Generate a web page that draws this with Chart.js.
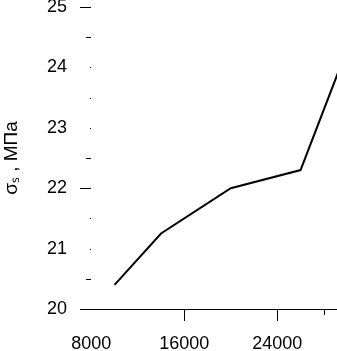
<!DOCTYPE html>
<html>
<head>
<meta charset="utf-8">
<script src="https://cdn.jsdelivr.net/npm/chart.js@4.4.0/dist/chart.umd.min.js"></script>
<style>
  html, body { margin: 0; padding: 0; background: #fff; }
  #wrap { width: 337px; height: 351px; }
</style>
</head>
<body>
<div id="wrap"><canvas id="myChart"></canvas></div>
<script>
// cycles and stress
const cycles = [10000, 14000, 20000, 26000, 30000];
const stress = [20.4, 21.25, 22.0, 22.3, 24.3];
const xTicks = [8000, 16000, 24000];
const yTicks = [20, 21, 22, 23, 24, 25];

// tick marks as drawn in the original (inside for y, outside for x)
const tickMarks = {
    id: 'tickMarks',
    afterDraw(chart) {
        const ctx = chart.ctx;
        const xs = chart.scales.x;
        const ys = chart.scales.y;
        const left = chart.chartArea.left;
        const bottom = chart.chartArea.bottom;
        ctx.save();
        ctx.strokeStyle = '#000';
        ctx.fillStyle = '#000';
        ctx.lineWidth = 1;
        const yKinds = { 25: 'long', 24.5: 'short', 24: 'dot', 23.5: 'dot', 23: 'dot',
            22.5: 'short', 22: 'long', 21.5: 'dot', 21: 'dot', 20.5: 'short' };
        Object.keys(yKinds).forEach(k => {
            const py = Math.round(ys.getPixelForValue(parseFloat(k))) + 0.5;
            const kind = yKinds[k];
            if (kind === 'dot') {
                ctx.fillRect(left + 10, py - 0.5, 1, 1);
            } else {
                const x0 = kind === 'long' ? left : left + 6;
                ctx.beginPath();
                ctx.moveTo(x0, py);
                ctx.lineTo(left + 11, py);
                ctx.stroke();
            }
        });
        [[16000, 12], [24000, 12], [28000, 6]].forEach(t => {
            const px = Math.round(xs.getPixelForValue(t[0])) + 0.5;
            ctx.beginPath();
            ctx.moveTo(px, bottom);
            ctx.lineTo(px, bottom + t[1]);
            ctx.stroke();
        });
        ctx.restore();
    }
};

const font = { family: '"Liberation Sans", Arial, sans-serif', size: 18 };

new Chart(document.getElementById('myChart').getContext('2d'), {
    type: 'line',
    data: {
        datasets: [{
            data: cycles.map((c, i) => ({ x: c, y: stress[i] })),
            borderColor: '#000',
            borderWidth: 2,
            pointRadius: 0,
            tension: 0,
            fill: false
        }]
    },
    options: {
        responsive: true,
        maintainAspectRatio: false,
        animation: false,
        devicePixelRatio: 1,
        layout: { padding: { top: 7, right: 0, left: 0, bottom: 0 } },
        plugins: { legend: { display: false }, tooltip: { enabled: false } },
        scales: {
            x: {
                type: 'linear',
                min: 7030,
                max: 29135,
                afterBuildTicks: s => { s.ticks = xTicks.map(v => ({ value: v })); },
                afterFit: s => { s.height = 42; s.paddingLeft = 0; s.paddingRight = 0; },
                grid: { display: false, drawTicks: false },
                border: { display: true, color: '#000', width: 1 },
                ticks: { color: '#000', font: font, padding: 24, maxRotation: 0,
                    callback: v => String(v) }
            },
            y: {
                min: 20,
                max: 25,
                afterBuildTicks: s => { s.ticks = yTicks.map(v => ({ value: v })); },
                afterFit: s => { s.width = 80; s.paddingTop = 0; s.paddingBottom = 0; },
                grid: { display: false, drawTicks: false },
                border: { display: false },
                title: { display: true, text: 'σₛ , МПа', color: '#000',
                    font: { family: font.family, size: 19 },
                    padding: { top: 0, bottom: 0 } },
                ticks: { color: '#000', font: font, padding: 13 }
            }
        }
    },
    plugins: [tickMarks]
});
</script>
</body>
</html>
